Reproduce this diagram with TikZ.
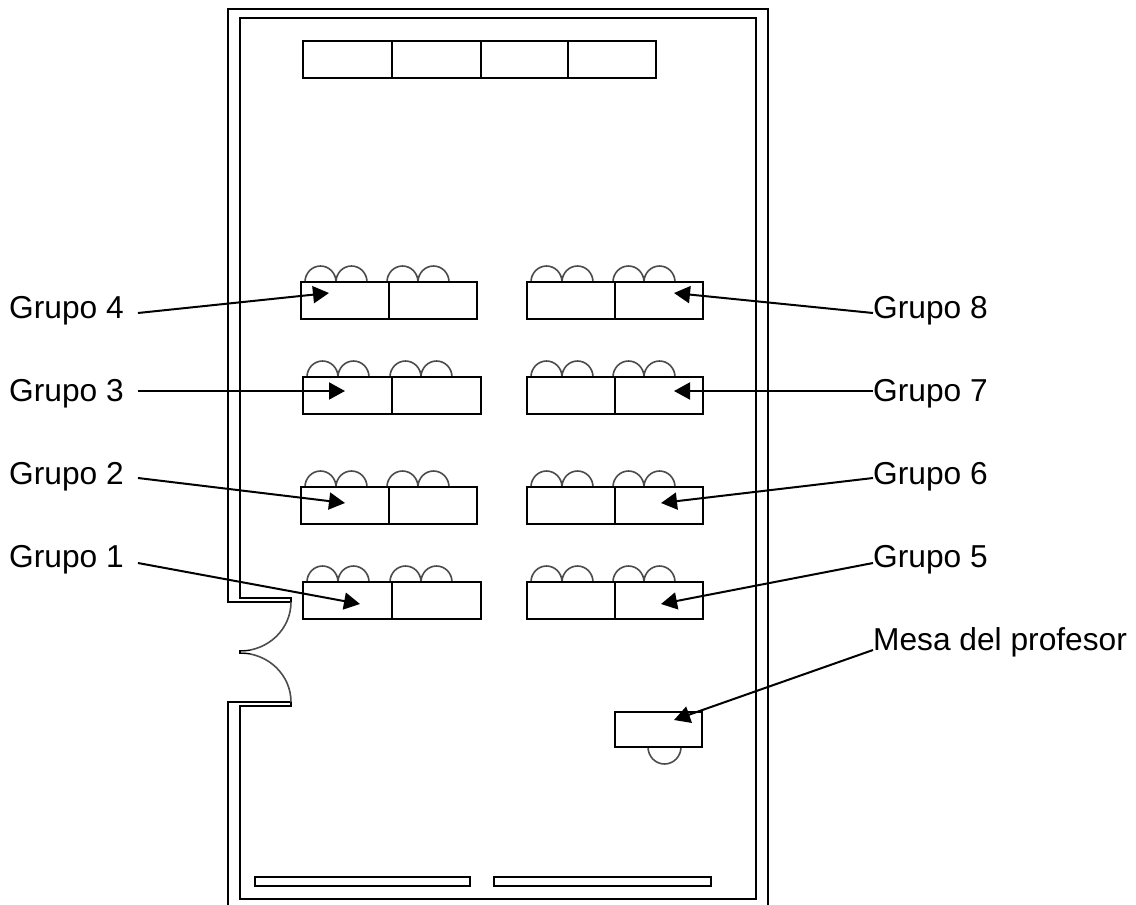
\documentclass[tikz,border=0pt]{standalone}
\usepackage{fontspec}
\setmainfont{Liberation Sans}
\usetikzlibrary{arrows.meta}
\tikzset{
	wall/.style={black, line width=1.7pt},
	desk/.style={black, line width=1.9pt, fill=white},
	seat/.style={black!70, line width=1.6pt},
	label/.style={font=\fontsize{31.7}{32}\selectfont, inner sep=0pt, text height=22pt, text depth=6pt},
	pointer/.style={black, line width=2pt, -{Triangle[length=16pt,width=17pt]}}
}
\begin{document}
\begin{tikzpicture}[x=1pt,y=-1pt]
	\useasboundingbox (0,0) rectangle (1136,905);
	\def\deskh{37}
	% walls
	\draw [wall] (228,905) -- (228,702) -- (291,702) -- (291,706) -- (240,706) -- (240,899) -- (756,899) -- (756,18) -- (240,18) -- (240,598) -- (291,598) -- (291,602) -- (228,602) -- (228,9) -- (768,9) -- (768,905);
	% door
	\draw [seat] (291,602) arc (0:90:51 and 49);
	\draw [seat] (240,653) arc (270:360:51 and 49);
	\draw [wall] (250,650.5) -- (240,650.5) -- (240,653.5) -- (250,653.5);
	% shelves
	\foreach \x/\w in {303/89,392/89,481/87,568/88}
	\draw [desk] (\x,41) rectangle (\x+\w,78);
	\draw [wall] (255,877) rectangle (470,886);
	\draw [wall] (494,877) rectangle (711,886);
	% seats and desks of the groups
	\foreach \x/\y/\w in {301/282/88,303/377/89,301/487/88,303/582/89,527/282/88,527/377/88,527/487/88,527/582/88}
	{
		\foreach \s in {4,35,\w-2,\w+29}
		\draw [seat] (\x+\s,\y) arc (180:360:15.5 and 16);
		\draw [desk] (\x,\y) rectangle (\x+\w,\y+\deskh);
		\draw [desk] (\x+\w,\y) rectangle (\x+2*\w,\y+\deskh);
	}
	% teacher
	\draw [seat] (648,747) arc (180:0:16.5 and 17);
	\draw [desk] (615,712) rectangle (702,747);
	% labels
	\node [label, anchor=base west] (grupo4) at (9,318) {Grupo 4};
	\node [label, anchor=base west] (grupo3) at (9,401) {Grupo 3};
	\node [label, anchor=base west] (grupo2) at (9,484) {Grupo 2};
	\node [label, anchor=base west] (grupo1) at (9,567) {Grupo 1};
	\node [label, anchor=base west] (grupo8) at (873,318) {Grupo 8};
	\node [label, anchor=base west] (grupo7) at (873,401) {Grupo 7};
	\node [label, anchor=base west] (grupo6) at (873,484) {Grupo 6};
	\node [label, anchor=base west] (grupo5) at (873,567) {Grupo 5};
	\node [label, anchor=base west] (profesor) at (873,650) {Mesa del profesor};
	% targets
	\coordinate (t4) at (329,293);
	\coordinate (t3) at (345,391);
	\coordinate (t2) at (345,503);
	\coordinate (t1) at (360,604);
	\coordinate (t8) at (674,293);
	\coordinate (t7) at (674,391);
	\coordinate (t6) at (661,503);
	\coordinate (t5) at (661,604);
	\coordinate (tp) at (674,720);
	\foreach \a/\b/\d in {grupo4/t4/-3,grupo3/t3/2,grupo2/t2/-2,grupo1/t1/-4}
	\draw [pointer] ([xshift=14pt,yshift=\d pt]\a.east) -- (\b);
	\foreach \a/\b/\d in {grupo8/t8/-3,grupo7/t7/2,grupo6/t6/-2,grupo5/t5/-4,profesor/tp/-8}
	\draw [pointer] ([yshift=\d pt]\a.west) -- (\b);
\end{tikzpicture}
\end{document}
